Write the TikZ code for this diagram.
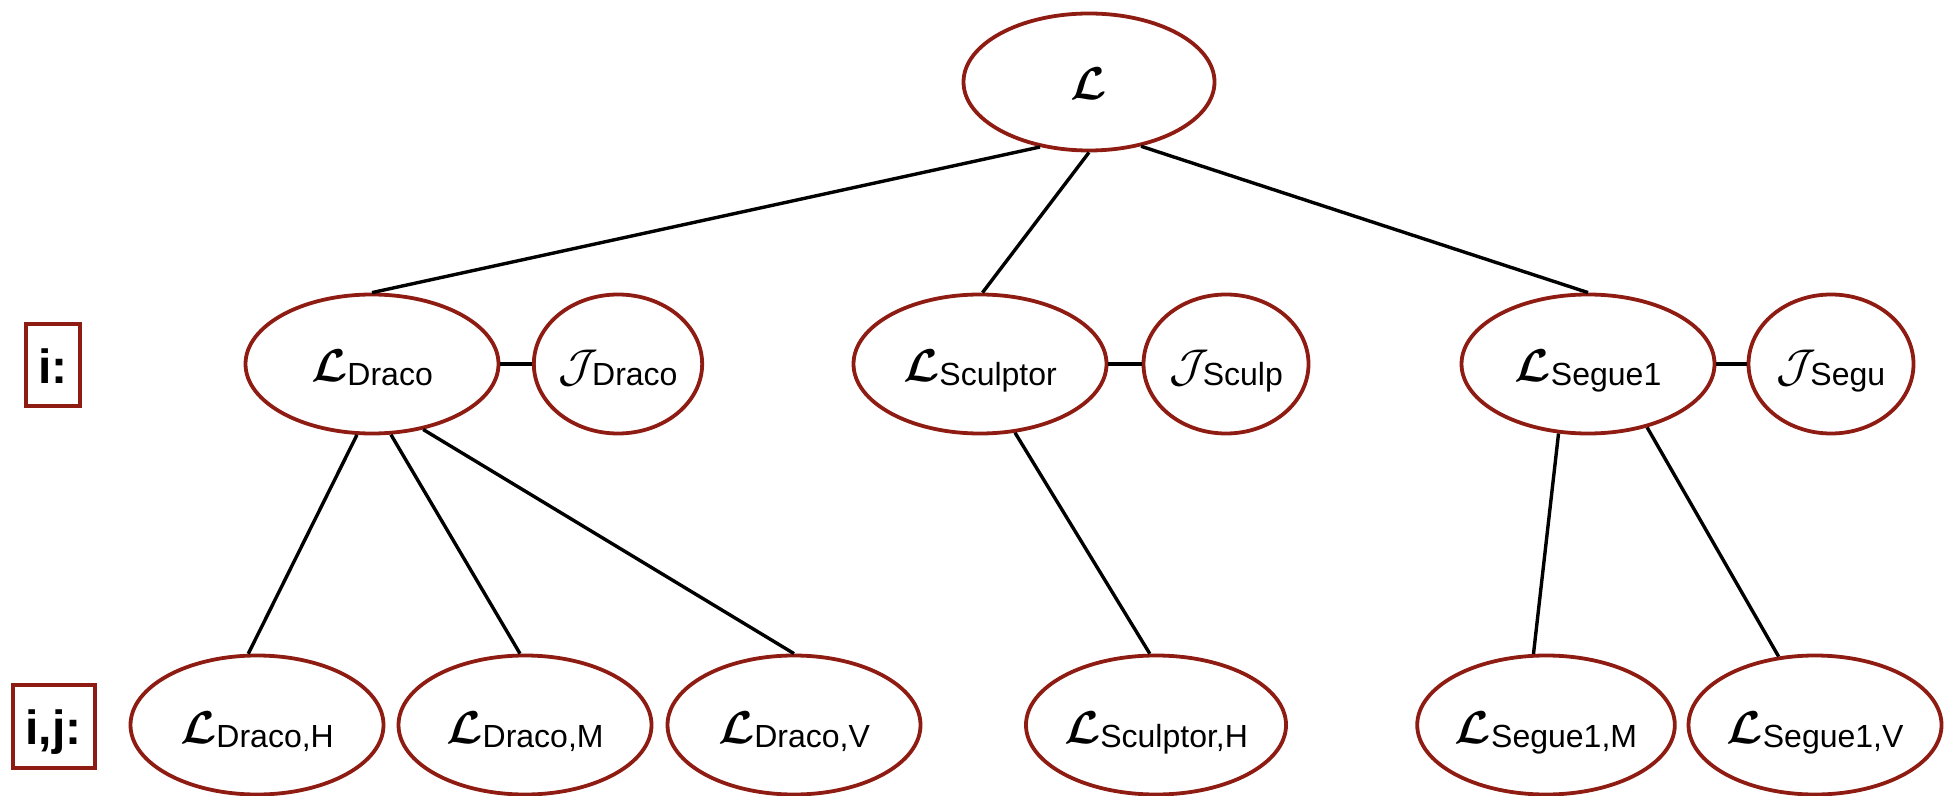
\documentclass[tikz,border=0pt]{standalone}
\usepackage{fontspec}
\setsansfont{Liberation Sans}
\usepackage{bm}
\usetikzlibrary{shapes.geometric}
\definecolor{nred}{RGB}{142,28,18}
\newcommand{\Lsym}{\scalebox{2.3}{$\bm{\mathcal{L}}$}}
\newcommand{\Jsym}{\scalebox{2.3}{$\mathcal{J}$}\hspace{-3pt}}
\newcommand{\subtxt}[1]{\raisebox{-2pt}{\fontsize{16}{19}\selectfont\sffamily #1}}
\newcommand{\lab}[1]{\raisebox{-9pt}[0pt][0pt]{#1}}
\begin{document}
\begin{tikzpicture}[x=0.5pt,y=-0.5pt,
  big/.style={ellipse, draw=nred, line width=1.9pt, minimum width=126.5pt, minimum height=69.5pt, inner sep=0pt},
  jel/.style={big, minimum width=82.5pt},
  conn/.style={line width=1.7pt, draw=black},
  lbox/.style={draw=nred, line width=2pt, inner sep=0pt, font=\fontsize{24}{28}\selectfont\sffamily\bfseries}]
\useasboundingbox (0,0) rectangle (1947,796);
% top
\node[big, minimum width=125.5pt, minimum height=68.5pt] (top) at (1089,82) {\lab{\Lsym}};
% level i
\node[big] (draco) at (372,364) {\lab{\Lsym\subtxt{Draco}}};
\node[jel] (jdraco) at (618,364) {\lab{\Jsym\subtxt{Draco}}};
\node[big] (sculptor) at (980,364) {\lab{\Lsym\subtxt{Sculptor}}};
\node[jel] (jsculp) at (1226,364) {\lab{\Jsym\subtxt{Sculp}}};
\node[big] (segue) at (1588,364) {\lab{\Lsym\subtxt{Segue1}}};
\node[jel] (jsegue) at (1831,364) {\lab{\Jsym\subtxt{Segu}}};
% level i,j
\node[big] (dH) at (257,725) {\lab{\Lsym\subtxt{Draco,H}}};
\node[big] (dM) at (525,725) {\lab{\Lsym\subtxt{Draco,M}}};
\node[big] (dV) at (794,725) {\lab{\Lsym\subtxt{Draco,V}}};
\node[big] (sH) at (1156,725) {\lab{\Lsym\subtxt{Sculptor,H}}};
\node[big] (sM) at (1546,725) {\lab{\Lsym\subtxt{Segue1,M}}};
\node[big] (sV) at (1815,725) {\lab{\Lsym\subtxt{Segue1,V}}};
% level boxes
\node[lbox, minimum width=27pt, minimum height=41pt] (ibox) at (53,365) {\lab{i:}};
\node[lbox, minimum width=41pt, minimum height=41.5pt] (ijbox) at (53.5,726) {\lab{i,j:}};
% connectors
\draw[conn] (top.233) -- (draco.north);
\draw[conn] (top.south) -- (sculptor.88);
\draw[conn] (top.309) -- (segue.north);
\draw[conn] (draco.east) -- (jdraco.west);
\draw[conn] (sculptor.east) -- (jsculp.west);
\draw[conn] (segue.east) -- (jsegue.west);
\draw[conn] (draco.258) -- (dH.97);
\draw[conn] (draco.285) -- (dM.94);
\draw[conn] (draco.308) -- (dV.north);
\draw[conn] (sculptor.297) -- (sH.95);
\draw[conn] (segue.247) -- (sM.100);
\draw[conn] (segue.313) -- (sV.118);
\end{tikzpicture}
\end{document}
